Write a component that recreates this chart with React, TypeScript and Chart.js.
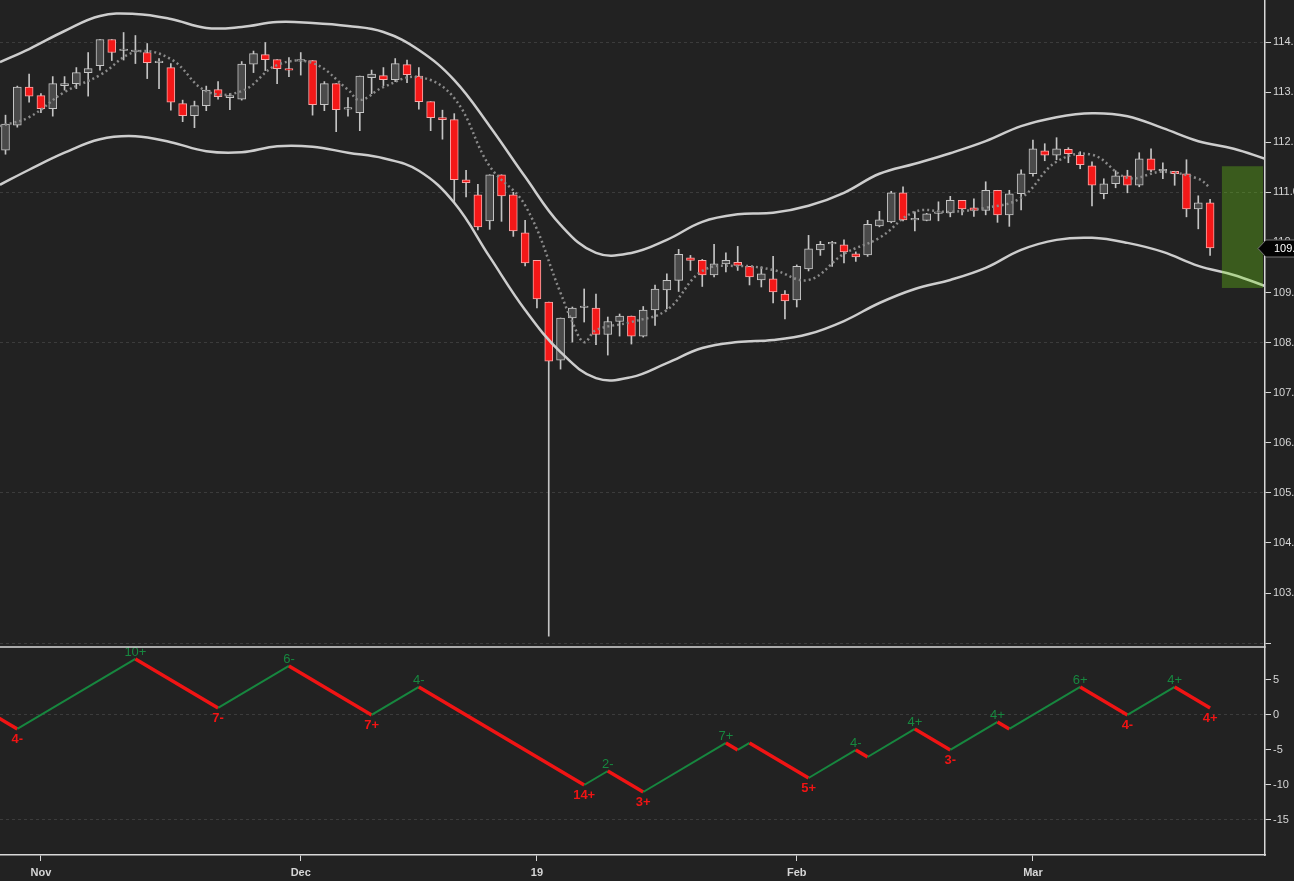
import { useEffect, useRef } from 'react';
import { Chart, registerables } from 'chart.js';

Chart.register(...registerables);

// x axis is linear in bar units: bar 0 = first candle (29 Oct)
const candleOpen = [
  111.84, 112.34, 113.10, 112.93, 112.67, 113.13, 113.17, 113.39, 113.53, 114.05,
  113.83, 113.81, 113.79, 113.59, 113.49, 112.77, 112.53, 112.73, 113.05, 112.89,
  112.86, 113.56, 113.75, 113.65, 113.47, 113.62, 113.63, 112.75, 113.17, 112.66,
  112.59, 113.29, 113.33, 113.25, 113.55, 113.32, 112.81, 112.49, 112.45, 111.25,
  110.95, 110.43, 111.35, 110.95, 110.19, 109.64, 108.81, 107.65, 108.49, 108.70,
  108.69, 108.16, 108.42, 108.53, 108.13, 108.65, 109.05, 109.24, 109.69, 109.64,
  109.35, 109.57, 109.60, 109.52, 109.25, 109.27, 108.97, 108.85, 109.47, 109.85,
  109.97, 109.95, 109.77, 109.75, 110.33, 110.41, 110.99, 110.45, 110.44, 110.58,
  110.59, 110.84, 110.69, 110.64, 111.04, 110.55, 110.97, 111.37, 111.83, 111.74,
  111.86, 111.74, 111.53, 110.97, 111.17, 111.33, 111.14, 111.67, 111.43, 111.42,
  111.37, 110.67, 110.79,
];
const candleHigh = [
  112.54, 113.12, 113.36, 112.97, 113.31, 113.31, 113.49, 113.79, 114.05, 114.05,
  114.19, 114.13, 113.97, 113.67, 113.57, 112.84, 112.82, 113.12, 113.21, 112.97,
  113.61, 113.82, 113.99, 113.65, 113.69, 113.79, 113.63, 113.21, 113.17, 112.89,
  113.32, 113.44, 113.49, 113.67, 113.64, 113.49, 112.81, 112.64, 112.57, 111.44,
  111.16, 111.35, 111.35, 111.00, 110.44, 109.64, 108.81, 108.49, 108.71, 109.07,
  108.97, 108.51, 108.57, 108.53, 108.72, 109.15, 109.37, 109.86, 109.74, 109.66,
  109.96, 109.79, 109.92, 109.52, 109.51, 109.72, 109.04, 109.55, 110.14, 110.02,
  110.02, 110.05, 109.81, 110.44, 110.62, 111.02, 111.11, 110.61, 110.58, 110.81,
  110.92, 110.84, 110.87, 111.21, 111.04, 111.04, 111.45, 112.04, 111.97, 112.09,
  111.89, 111.81, 111.61, 111.27, 111.43, 111.44, 111.79, 111.87, 111.59, 111.42,
  111.65, 110.93, 110.86,
];
const candleLow = [
  111.76, 112.30, 112.80, 112.59, 112.52, 113.04, 113.07, 112.92, 113.44, 113.63,
  113.64, 113.57, 113.27, 113.07, 112.64, 112.41, 112.29, 112.63, 112.86, 112.65,
  112.84, 113.39, 113.43, 113.17, 113.31, 113.34, 112.54, 112.63, 112.21, 112.52,
  112.23, 112.97, 113.13, 113.21, 113.19, 112.66, 112.23, 112.06, 110.79, 110.91,
  110.25, 110.26, 110.42, 110.12, 109.53, 108.69, 102.14, 107.47, 108.01, 108.41,
  107.96, 107.75, 108.13, 107.97, 108.11, 108.34, 108.67, 109.02, 109.44, 109.12,
  109.31, 109.41, 109.44, 109.15, 109.11, 108.79, 108.47, 108.71, 109.43, 109.74,
  109.52, 109.59, 109.62, 109.72, 110.31, 110.39, 110.43, 110.23, 110.43, 110.43,
  110.51, 110.55, 110.52, 110.55, 110.40, 110.32, 110.65, 111.32, 111.63, 111.65,
  111.59, 111.47, 110.73, 110.87, 111.09, 110.99, 111.11, 111.41, 111.27, 111.14,
  110.51, 110.27, 109.74,
];
const candleClose = [
  112.36, 113.10, 112.92, 112.67, 113.17, 113.17, 113.39, 113.47, 114.05, 113.79,
  113.86, 113.84, 113.59, 113.62, 112.80, 112.53, 112.73, 113.04, 112.91, 112.93,
  113.56, 113.77, 113.65, 113.47, 113.44, 113.65, 112.75, 113.17, 112.65, 112.69,
  113.32, 113.36, 113.25, 113.57, 113.35, 112.81, 112.49, 112.45, 111.25, 111.19,
  110.31, 111.35, 110.93, 110.23, 109.59, 108.87, 107.63, 108.49, 108.69, 108.73,
  108.16, 108.42, 108.53, 108.13, 108.65, 109.07, 109.24, 109.76, 109.64, 109.35,
  109.57, 109.64, 109.54, 109.31, 109.37, 109.01, 108.83, 109.52, 109.87, 109.96,
  110.00, 109.81, 109.71, 110.36, 110.45, 110.99, 110.45, 110.48, 110.57, 110.61,
  110.84, 110.67, 110.64, 111.04, 110.55, 110.97, 111.37, 111.87, 111.74, 111.87,
  111.77, 111.55, 111.14, 111.17, 111.33, 111.14, 111.67, 111.44, 111.46, 111.37,
  110.67, 110.79, 109.89,
];

// envelope bands (sampled every 3 bars, projected 4 bars ahead)
const bandX = [
  -0.47, 2, 5, 8, 11, 14, 17, 20, 23, 26, 29, 32, 35, 38, 41, 44, 47, 50, 53,
  56, 59, 62, 65, 68, 71, 74, 77, 80, 83, 86, 89, 92, 95, 98, 101, 104, 106.65,
];
const bandUpper = [
  113.60, 113.86, 114.22, 114.52, 114.56, 114.46, 114.28, 114.30, 114.40, 114.38,
  114.32, 114.20, 113.84, 113.24, 112.32, 111.31, 110.35, 109.79, 109.79, 110.05,
  110.41, 110.56, 110.59, 110.73, 110.99, 111.37, 111.57, 111.78, 112.02, 112.32,
  112.50, 112.58, 112.52, 112.28, 112.02, 111.87, 111.67,
];
const bandLower = [
  111.15, 111.45, 111.79, 112.06, 112.12, 112.00, 111.82, 111.80, 111.92, 111.91,
  111.79, 111.68, 111.43, 110.79, 109.71, 108.65, 107.81, 107.29, 107.31, 107.59,
  107.89, 108.01, 108.05, 108.17, 108.43, 108.79, 109.07, 109.25, 109.49, 109.85,
  110.05, 110.09, 109.99, 109.81, 109.53, 109.35, 109.13,
];

// dotted middle line
const midX = [
  -0.47, 2, 5, 8, 11, 14, 17, 20, 23, 26, 29, 30, 32, 35, 38, 41, 44, 47, 48, 49,
  50, 53, 56, 59, 62, 65, 68, 71, 74, 77, 80, 83, 86, 89, 92, 95, 98, 101, 102,
];
const midVal = [
  112.32, 112.50, 113.00, 113.34, 113.80, 113.66, 113.02, 113.02, 113.54, 113.58,
  113.05, 112.84, 113.10, 113.30, 112.88, 111.52, 110.74, 108.99, 108.41, 108.01,
  108.25, 108.41, 108.65, 109.43, 109.53, 109.45, 109.25, 109.77, 110.09, 110.61,
  110.61, 110.69, 110.89, 111.61, 111.75, 111.29, 111.41, 111.27, 111.09,
];

// wave count panel
const waveX = [-3, 1, 11, 18, 24, 31, 35, 49, 51, 54, 61, 62, 63, 68, 72, 73, 77, 80, 84, 85, 91, 95, 99, 102];
const waveVal = [2, -2, 8, 1, 7, 0, 4, -10, -8, -11, -4, -5, -4, -9, -5, -6, -2, -5, -1, -2, 4, 0, 4, 1];
const waveLabels = ['', '4-', '10+', '7-', '6-', '7+', '4-', '14+', '2-', '3+', '7+', '', '', '5+', '4-', '', '4+', '3-', '4+', '', '6+', '4-', '4+', '4+'];

const monthTickX = [3, 25, 45, 67, 87];
const monthLabels = ['Nov', 'Dec', '19', 'Feb', 'Mar'];
const priceTicks = [102, 103, 104, 105, 106, 107, 108, 109, 110, 111, 112, 113, 114];
const waveTicks = [-15, -10, -5, 0, 5];

const lastPrice = 109.89;
const zoneX = [103.0, 106.48];
const zoneY = [109.09, 111.52];

const FONT = "'Liberation Sans', Arial, sans-serif";
const AXIS_TEXT = '#d6d6d6';
const AXIS_LINE = '#d8d8d8';
const GRID = '#3c3c3c';
const GREEN = '#17873f';
const RED = '#f01414';

const decorPlugin = {
  id: 'decor',
  afterDatasetsDraw(chart: any) {
    const { ctx, scales } = chart;
    const x = scales.x;
    const y = scales.y;
    const y2 = scales.y2;
    ctx.save();
    // projection zone
    const zx0 = x.getPixelForValue(zoneX[0]);
    const zx1 = x.getPixelForValue(zoneX[1]);
    const zy0 = y.getPixelForValue(zoneY[1]);
    const zy1 = y.getPixelForValue(zoneY[0]);
    ctx.fillStyle = 'rgba(115, 225, 20, 0.3)';
    ctx.fillRect(zx0, zy0, zx1 - zx0, zy1 - zy0);

    // wave labels: peaks above in green, troughs below in red
    ctx.textAlign = 'center';
    ctx.textBaseline = 'alphabetic';
    waveX.forEach((wx, k) => {
      const txt = waveLabels[k];
      if (!txt) return;
      const px = x.getPixelForValue(wx);
      const py = y2.getPixelForValue(waveVal[k]);
      const peak = k > 0 && waveVal[k] > waveVal[k - 1];
      if (peak) {
        ctx.font = `13px ${FONT}`;
        ctx.fillStyle = GREEN;
        ctx.fillText(txt, px, py - 3);
      } else {
        ctx.font = `bold 13px ${FONT}`;
        ctx.fillStyle = RED;
        ctx.fillText(txt, px, py + 14);
      }
    });
    ctx.restore();
  },
  afterDraw(chart: any) {
    const { ctx, chartArea, scales, width } = chart;
    const y = scales.y;
    const y2 = scales.y2;
    ctx.save();
    // separator between panels
    ctx.strokeStyle = AXIS_LINE;
    ctx.lineWidth = 1.5;
    ctx.beginPath();
    ctx.moveTo(0, y2.top);
    ctx.lineTo(chartArea.right, y2.top);
    ctx.stroke();

    // last price tag
    const py = Math.round(y.getPixelForValue(lastPrice)) + 0.5;
    const tip = chartArea.right - 7;
    ctx.beginPath();
    ctx.moveTo(tip, py);
    ctx.lineTo(tip + 8, py - 8.5);
    ctx.lineTo(width, py - 8.5);
    ctx.lineTo(width, py + 8.5);
    ctx.lineTo(tip + 8, py + 8.5);
    ctx.closePath();
    ctx.fillStyle = '#030303';
    ctx.fill();
    ctx.strokeStyle = '#777';
    ctx.lineWidth = 1;
    ctx.stroke();
    ctx.fillStyle = '#ffffff';
    ctx.font = `11px ${FONT}`;
    ctx.textAlign = 'left';
    ctx.textBaseline = 'middle';
    ctx.fillText(lastPrice.toFixed(2), chartArea.right + 9, py + 0.5);
    ctx.restore();
  },
};

export default function App() {
  const canvasRef = useRef<HTMLCanvasElement>(null);

  useEffect(() => {
    if (!canvasRef.current) return;
    const idx = candleOpen.map((_, i) => i);
    const up = idx.map((i) => candleClose[i] >= candleOpen[i]);

    const chart = new Chart(canvasRef.current, {
      type: 'line',
      data: {
        datasets: [
          {
            type: 'line',
            label: 'Wave',
            data: waveX.map((x, i) => ({ x, y: waveVal[i] })),
            yAxisID: 'y2',
            borderColor: RED,
            borderWidth: 3,
            pointRadius: 0,
            tension: 0,
            order: 0,
            segment: {
              borderColor: (c: any) => (c.p1.parsed.y > c.p0.parsed.y ? GREEN : RED),
              borderWidth: (c: any) => (c.p1.parsed.y > c.p0.parsed.y ? 2 : 3.5),
            },
          },
          {
            type: 'line',
            label: 'Upper',
            data: bandX.map((x, i) => ({ x, y: bandUpper[i] })),
            yAxisID: 'y',
            borderColor: '#cdcdcd',
            borderWidth: 2.5,
            pointRadius: 0,
            tension: 0.4,
            order: 1,
          },
          {
            type: 'line',
            label: 'Lower',
            data: bandX.map((x, i) => ({ x, y: bandLower[i] })),
            yAxisID: 'y',
            borderColor: '#cdcdcd',
            borderWidth: 2.5,
            pointRadius: 0,
            tension: 0.4,
            order: 1,
          },
          {
            type: 'line',
            label: 'Middle',
            data: midX.map((x, i) => ({ x, y: midVal[i] })),
            yAxisID: 'y',
            borderColor: '#8a8a8a',
            borderWidth: 2.5,
            borderDash: [2, 3],
            pointRadius: 0,
            tension: 0.4,
            order: 2,
          },
          {
            type: 'bar',
            label: 'Body',
            data: idx.map((i) => ({ x: i, y: [candleOpen[i], candleClose[i]] })) as any,
            yAxisID: 'y',
            backgroundColor: up.map((u) => (u ? '#4a4a4a' : '#f41818')),
            borderColor: up.map((u) => (u ? '#c6c6c6' : '#f7a8a8')),
            borderWidth: 1,
            borderSkipped: false,
            barThickness: 8,
            grouped: false,
            order: 3,
          },
          {
            type: 'bar',
            label: 'Wick',
            data: idx.map((i) => ({ x: i, y: [candleLow[i], candleHigh[i]] })) as any,
            yAxisID: 'y',
            backgroundColor: '#c4c4c4',
            borderWidth: 0,
            barThickness: 1,
            grouped: false,
            order: 4,
          },
        ] as any,
      },
      options: {
        animation: false,
        responsive: true,
        maintainAspectRatio: false,
        events: [],
        layout: { padding: 0, autoPadding: false },
        plugins: {
          legend: { display: false },
          tooltip: { enabled: false },
        },
        scales: {
          x: {
            type: 'linear',
            min: -0.466,
            max: 106.65,
            offset: false,
            afterBuildTicks: (s: any) => {
              s.ticks = monthTickX.map((v) => ({ value: v }));
            },
            afterFit: (s: any) => {
              s.height = 26;
              s.paddingLeft = 0;
              s.paddingRight = 0;
            },
            ticks: {
              color: AXIS_TEXT,
              font: { family: FONT, size: 11, weight: 'bold' },
              padding: 5,
              autoSkip: false,
              maxRotation: 0,
              callback: (v: any) => monthLabels[monthTickX.indexOf(Number(v))] ?? '',
            },
            grid: {
              drawOnChartArea: false,
              offset: false,
              color: AXIS_LINE,
              tickColor: AXIS_LINE,
              tickLength: 6,
            },
            border: { display: true, color: AXIS_LINE, width: 1.5 },
          },
          y: {
            type: 'linear',
            position: 'right',
            stack: 'panes',
            stackWeight: 647,
            min: 101.922,
            max: 114.839,
            afterBuildTicks: (s: any) => {
              s.ticks = priceTicks.map((v) => ({ value: v }));
            },
            afterFit: (s: any) => {
              s.width = 55;
              s.paddingTop = 0;
              s.paddingBottom = 0;
            },
            ticks: {
              color: AXIS_TEXT,
              font: { family: FONT, size: 11 },
              padding: 2,
              callback: (v: any) => (Number(v) === 102 ? '' : Number(v).toFixed(2)),
            },
            grid: {
              color: (c: any) => (c.tick && c.tick.value % 3 === 0 ? GRID : 'rgba(0,0,0,0)'),
              tickColor: AXIS_LINE,
              tickLength: 6,
            },
            border: { display: true, color: AXIS_LINE, width: 1.5, dash: [3, 3] },
          },
          y2: {
            type: 'linear',
            position: 'right',
            stack: 'panes',
            stackWeight: 208,
            min: -20,
            max: 9.71,
            afterBuildTicks: (s: any) => {
              s.ticks = waveTicks.map((v) => ({ value: v }));
            },
            afterFit: (s: any) => {
              s.width = 55;
              s.paddingTop = 0;
              s.paddingBottom = 0;
            },
            ticks: {
              color: AXIS_TEXT,
              font: { family: FONT, size: 11 },
              padding: 2,
              callback: (v: any) => String(v),
            },
            grid: {
              color: (c: any) => (c.tick && c.tick.value % 15 === 0 ? GRID : 'rgba(0,0,0,0)'),
              tickColor: AXIS_LINE,
              tickLength: 6,
            },
            border: { display: true, color: AXIS_LINE, width: 1.5, dash: [3, 3] },
          },
        },
      } as any,
      plugins: [decorPlugin],
    });

    return () => {
      chart.destroy();
    };
  }, []);

  return (
    <div
      style={{
        position: 'fixed',
        left: 0,
        top: 0,
        width: 1294,
        height: 881,
        overflow: 'hidden',
        background: '#222222',
      }}
    >
      <div style={{ position: 'relative', width: 1320, height: 881 }}>
        <canvas ref={canvasRef} role="img" aria-label="Candlestick chart with envelope bands and wave count panel" />
      </div>
    </div>
  );
}
